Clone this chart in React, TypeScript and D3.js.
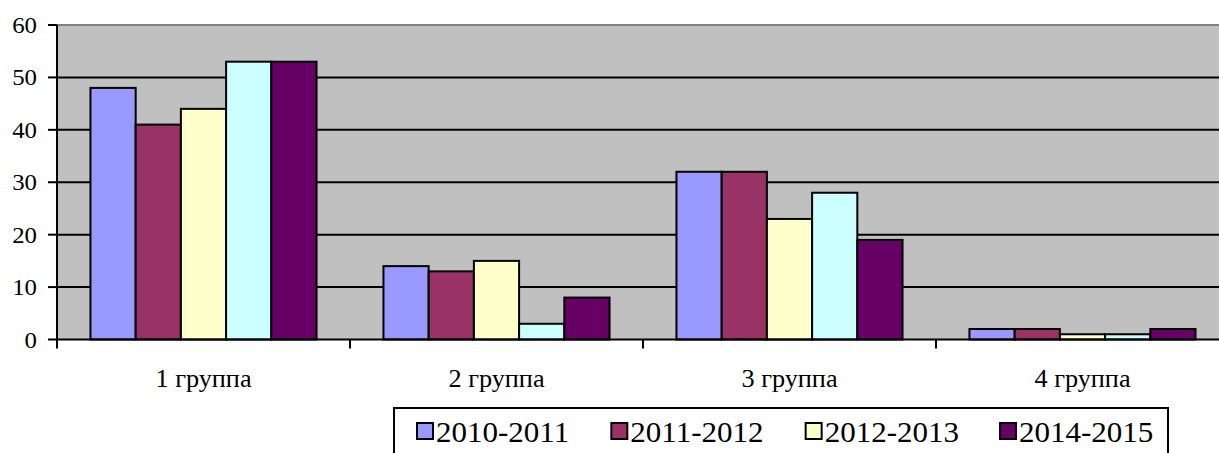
import * as d3 from 'd3'

const categories = ['1 группа', '2 группа', '3 группа', '4 группа']
const seriesNames = ['2010-2011', '2011-2012', '2012-2013', '2013-2014', '2014-2015']
const seriesColors = ['#9999FF', '#993366', '#FFFFCC', '#CCFFFF', '#660066']
// the legend of the original leaves out the light-cyan series
const legendSeries = ['2010-2011', '2011-2012', '2012-2013', '2014-2015']

const values2010 = [48, 14, 32, 2]
const values2011 = [41, 13, 32, 2]
const values2012 = [44, 15, 23, 1]
const values2013 = [53, 3, 28, 1]
const values2014 = [53, 8, 19, 2]
const seriesValues = [values2010, values2011, values2012, values2013, values2014]

const yTicks = [0, 10, 20, 30, 40, 50, 60]

const W = 1219
const H = 453
const LEFT = 57
const TOP = 25
const BOTTOM = 339.5
const STEP = 293

const SERIF = 'Times New Roman'

export default function App() {
  const x0 = d3
    .scaleBand<string>()
    .domain(categories)
    .range([LEFT, LEFT + STEP * categories.length])
    .padding(0)
  const x1 = d3
    .scaleBand<string>()
    .domain(seriesNames)
    .range([0, x0.bandwidth()])
    .paddingInner(0)
    .paddingOuter(0.74)
  const y = d3.scaleLinear().domain([0, 60]).range([BOTTOM, TOP])

  const colorOf = d3.scaleOrdinal<string, string>().domain(seriesNames).range(seriesColors)

  const legendX = d3.scalePoint<string>().domain(legendSeries).range([417, 1000])

  return (
    <svg width={W} height={H} style={{ position: 'absolute', left: 0, top: 0, display: 'block' }}>
      <style>{`text { font-family: 'Times New Roman', 'Liberation Serif', serif; }`}</style>
      <rect x={LEFT} y={TOP} width={x0.range()[1] - LEFT} height={BOTTOM - TOP} fill="#C0C0C0" />

      {yTicks.map((t) => (
        <g key={t}>
          {t > 0 && (
            <line
              x1={LEFT}
              x2={x0.range()[1]}
              y1={y(t)}
              y2={y(t)}
              stroke={t === 60 ? '#808080' : '#000'}
              strokeWidth={2}
            />
          )}
          <line x1={LEFT - 9} x2={LEFT} y1={y(t)} y2={y(t)} stroke="#000" strokeWidth={2} />
          <text
            transform={`translate(37,${y(t) + 8}) scale(1.08,1)`}
            textAnchor="end"
            fontFamily={SERIF}
            fontSize={23}
            fill="#000"
          >
            {String(t)}
          </text>
        </g>
      ))}

      {categories.map((c, ci) => (
        <g key={c} transform={`translate(${x0(c)},0)`}>
          {seriesNames.map((s, si) => {
            const v = seriesValues[si][ci]
            return (
              <rect
                key={s}
                x={x1(s)}
                y={y(v)}
                width={x1.bandwidth()}
                height={y(0) - y(v)}
                fill={colorOf(s)}
                stroke="#000"
                strokeWidth={2}
              />
            )
          })}
        </g>
      ))}

      <line x1={LEFT} x2={x0.range()[1]} y1={y(0)} y2={y(0)} stroke="#000" strokeWidth={2} />
      <line x1={LEFT} x2={LEFT} y1={TOP} y2={y(0) + 9} stroke="#000" strokeWidth={2} />
      {categories.map((c) => (
        <line
          key={c}
          x1={(x0(c) ?? 0) + STEP}
          x2={(x0(c) ?? 0) + STEP}
          y1={y(0)}
          y2={y(0) + 9}
          stroke="#000"
          strokeWidth={2}
        />
      ))}

      {categories.map((c) => (
        <text
          key={c}
          transform={`translate(${(x0(c) ?? 0) + x0.bandwidth() / 2},387) scale(1.05,1)`}
          textAnchor="middle"
          fontFamily={SERIF}
          fontSize={25}
          fill="#000"
        >
          {c}
        </text>
      ))}

      <rect x={394} y={408} width={774} height={60} fill="#fff" stroke="#000" strokeWidth={2} />
      {legendSeries.map((s) => {
        const lx = legendX(s) ?? 0
        return (
          <g key={s}>
            <rect x={lx} y={423} width={16} height={16} fill={colorOf(s)} stroke="#000" strokeWidth={2} />
            <text
              transform={`translate(${lx + 19},442) scale(1.07,1)`}
              fontFamily={SERIF}
              fontSize={29}
              fill="#000"
            >
              {s}
            </text>
          </g>
        )
      })}
    </svg>
  )
}
